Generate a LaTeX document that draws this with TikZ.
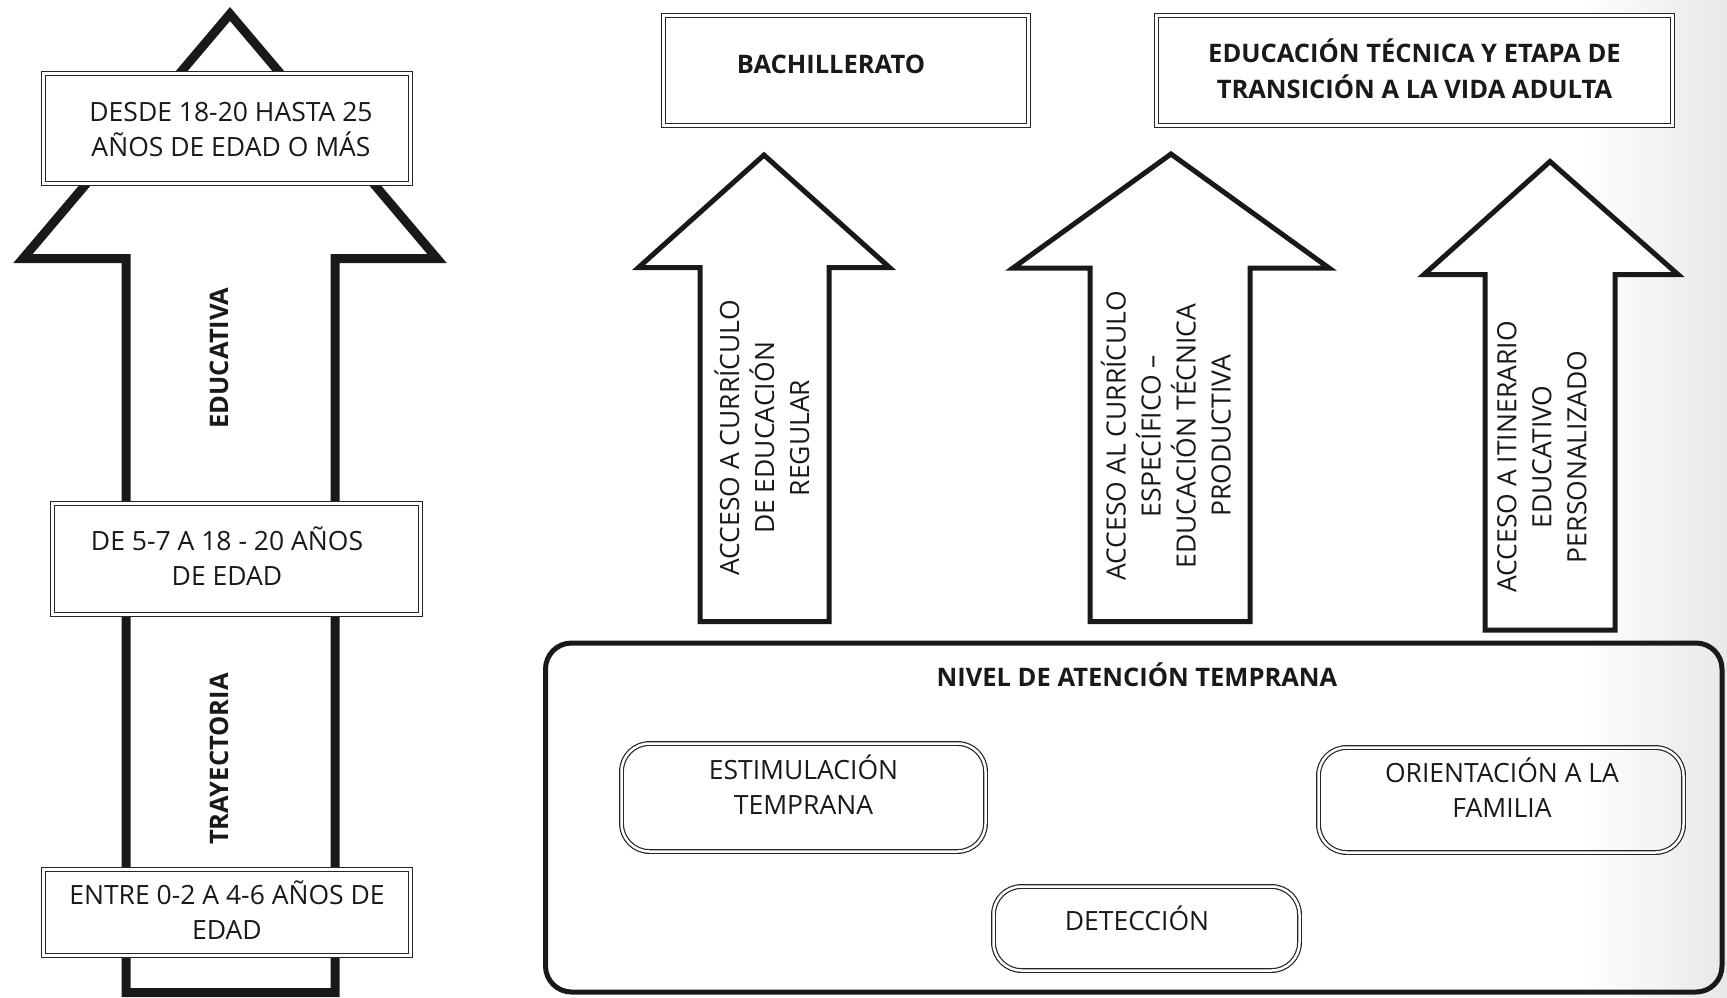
\documentclass[tikz,border=0pt]{standalone}
\usepackage{fontspec}
\setmainfont{Open Sans}
\usepackage{tikz}
\usetikzlibrary{positioning,calc}
\pgfdeclarelayer{bg}
\pgfsetlayers{bg,main}

\tikzset{
  bigarrow/.style={draw=black!90, line width=9pt, fill=white},
  uparrow/.style={draw=black!90, line width=5pt, fill=white},
  agebox/.style={draw=black!85, line width=1.2pt, double=white, double distance=2.5pt, fill=white, inner sep=0pt},
  stagebox/.style={agebox, rounded corners=28pt, fill=none},
  levelframe/.style={draw=black!90, line width=5pt, rounded corners=26pt, inner sep=0pt},
  plaintxt/.style={font=\fontsize{26.5}{35}\selectfont, text=black!90, align=center, inner sep=0pt},
  boldtxt/.style={font=\fontsize{25.5}{36}\selectfont\bfseries, text=black!90, align=center, inner sep=0pt}
}

\begin{document}
\begin{tikzpicture}[x=1pt, y=-1pt]
    \useasboundingbox (0,0) rectangle (1727,997);
    \begin{pgfonlayer}{bg}    % grey fade on the right edge
        \shade[left color=white, right color=black!9] (1580,0) rectangle (1727,997);
    \end{pgfonlayer}

    % trayectoria educativa
    \draw[bigarrow] (230,14) -- (437,258.5) -- (335,258.5) -- (335,992.5)
        -- (126,992.5) -- (126,258.5) -- (23,258.5) -- cycle;
    \node[agebox, minimum width=367pt, minimum height=110pt] (adult) at (227,128.5) {};
    \node[agebox, minimum width=368pt, minimum height=111pt] (school) at (236.5,559) {};
    \node[agebox, minimum width=367pt, minimum height=86pt] (infant) at (227,912.5) {};
    \node[plaintxt] (adultT) at (231,130) {DESDE 18-20 HASTA 25\\AÑOS DE EDAD O MÁS};
    \node[plaintxt] (schoolT) at (227,556) {DE 5-7 A 18 - 20 AÑOS\\DE EDAD};
    \node[plaintxt] (infantT) at (227,910) {ENTRE 0-2 A 4-6 AÑOS DE\\EDAD};
    \node[boldtxt, rotate=90] (educativa) at (219,358) {EDUCATIVA};
    \node[boldtxt, rotate=90] (trayectoria) at (219,759) {TRAYECTORIA};

    % salidas
    \node[agebox, minimum width=365pt, minimum height=110pt] (bach) at (846,70.5) {};
    \node[agebox, minimum width=516pt, minimum height=110pt] (tecnica) at (1414.5,70.5) {};
    \node[boldtxt] (bachT) at (831,64) {BACHILLERATO};
    \node[boldtxt] (tecnicaT) at (1414.5,69) {EDUCACIÓN TÉCNICA Y ETAPA DE\\TRANSICIÓN A LA VIDA ADULTA};

    % accesos
    \draw[uparrow] (764,155) -- (889.5,267.5) -- (829,267.5) -- (829,621.5)
        -- (700,621.5) -- (700,267.5) -- (638.5,267.5) -- cycle;
    \draw[uparrow] (1171,154) -- (1329,268) -- (1250,268) -- (1250,621.5)
        -- (1090,621.5) -- (1090,268) -- (1013,268) -- cycle;
    \draw[uparrow] (1550,161.5) -- (1678,274.5) -- (1615,274.5) -- (1615,630)
        -- (1485,630) -- (1485,274.5) -- (1424,274.5) -- cycle;
    \node[plaintxt, rotate=90] (regular) at (762,438) {ACCESO A CURRÍCULO\\DE EDUCACIÓN\\REGULAR};
    \node[plaintxt, rotate=90] (especifico) at (1166,436) {ACCESO AL CURRÍCULO\\ESPECÍFICO –\\EDUCACIÓN TÉCNICA\\PRODUCTIVA};
    \node[plaintxt, rotate=90] (itinerario) at (1542,457) {ACCESO A ITINERARIO\\EDUCATIVO\\PERSONALIZADO};

    % atencion temprana
    \node[levelframe, minimum width=1176.5pt, minimum height=349pt] (nivel) at (1133.75,817.5) {};
    \node[boldtxt] (nivelT) at (1137,675) {NIVEL DE ATENCIÓN TEMPRANA};
    \node[stagebox, minimum width=364pt, minimum height=108pt] (estim) at (803.5,797.5) {};
    \node[stagebox, minimum width=365pt, minimum height=105pt] (orient) at (1501,800) {};
    \node[stagebox, minimum width=306pt, minimum height=84pt] (detec) at (1146.5,928.5) {};
    \node[plaintxt] (estimT) at (803.5,784.5) {ESTIMULACIÓN\\TEMPRANA};
    \node[plaintxt] (orientT) at (1502,787.5) {ORIENTACIÓN A LA\\FAMILIA};
    \node[plaintxt] (detecT) at (1137,918) {DETECCIÓN};
\end{tikzpicture}
\end{document}
